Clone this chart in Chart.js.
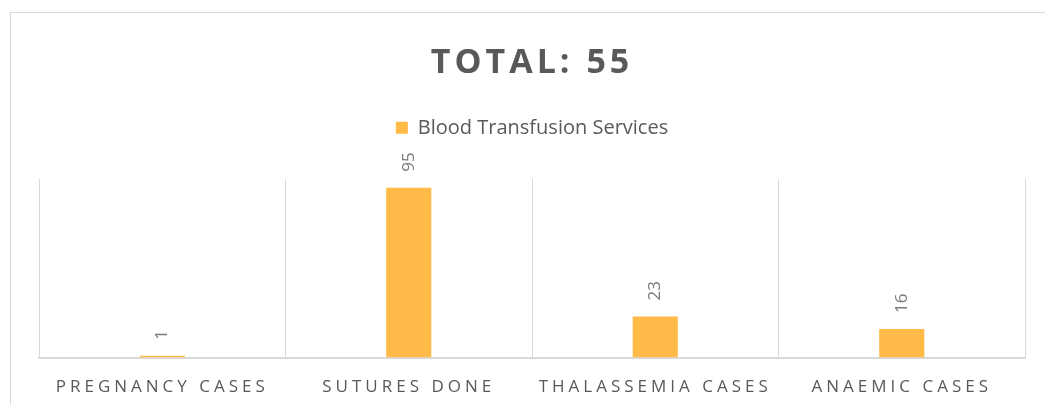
<!DOCTYPE html>
<html>
<head>
<meta charset="utf-8">
<script src="https://cdn.jsdelivr.net/npm/chart.js@4/dist/chart.umd.min.js"></script>
<style>
  html, body { margin: 0; padding: 0; background: #fff; overflow: hidden; }
  #frame { position: absolute; left: 10px; top: 12px; width: 1100px; height: 500px; border: 1px solid #d9d9d9; box-sizing: border-box; }
  #wrap { position: absolute; left: 0; top: 0; width: 1045px; height: 405px; }
</style>
</head>
<body>
<div id="frame"></div>
<div id="wrap"><canvas id="chart" width="1045" height="405"></canvas></div>
<script>
// data
const categories = ["PREGNANCY CASES", "SUTURES DONE", "THALASSEMIA CASES", "ANAEMIC CASES"];
const transfusions = [1, 95, 23, 16];
const seriesName = "Blood Transfusion Services";
const titleText = "TOTAL: 55";

const FONT = "'Open Sans', 'Liberation Sans', sans-serif";
const grey = "#595959";

// letter spacing for the title and the category labels
const spacingPlugin = {
  id: 'spacing',
  afterLayout(chart) {
    const wrap = (obj, fn, space) => {
      if (!obj || obj['_sp_' + fn]) return;
      const orig = obj[fn].bind(obj);
      obj[fn] = function (...args) {
        const ctx = chart.ctx;
        ctx.save();
        ctx.letterSpacing = space;
        orig(...args);
        ctx.restore();
      };
      obj['_sp_' + fn] = true;
    };
    wrap(chart.titleBlock, 'draw', '4px');
    wrap(chart.scales.x, 'drawLabels', '4px');
  }
};

// vertical value labels above each bar
const valueLabels = {
  id: 'valueLabels',
  afterDatasetsDraw(chart) {
    const ctx = chart.ctx;
    const meta = chart.getDatasetMeta(0);
    ctx.save();
    ctx.font = "17px " + FONT;
    ctx.fillStyle = "#7a7a7a";
    ctx.textAlign = 'left';
    ctx.textBaseline = 'middle';
    meta.data.forEach((bar, i) => {
      ctx.save();
      ctx.translate(bar.x, bar.y - 16);
      ctx.rotate(-Math.PI / 2);
      ctx.fillText(String(transfusions[i]), 0, 0);
      ctx.restore();
    });
    ctx.restore();
  }
};

new Chart(document.getElementById('chart'), {
  type: 'bar',
  data: {
    labels: categories,
    datasets: [{
      label: seriesName,
      data: transfusions,
      backgroundColor: "#FFBA47",
      borderWidth: 0,
      barPercentage: 0.183,
      categoryPercentage: 1
    }]
  },
  options: {
    responsive: false,
    animation: false,
    layout: { padding: { left: 39, right: 20, top: 0, bottom: -11 } },
    plugins: {
      title: {
        display: true,
        text: titleText,
        color: grey,
        font: { family: FONT, size: 34, weight: 'bold', lineHeight: 1.2 },
        padding: { top: 43, bottom: 26 }
      },
      subtitle: {
        display: true,
        text: '',
        weight: 500,
        font: { size: 31, lineHeight: 1 },
        padding: 0
      },
      legend: {
        position: 'top',
        labels: {
          color: grey,
          font: { family: FONT, size: 20 },
          boxWidth: 12,
          boxHeight: 12,
          padding: 8
        }
      },
      tooltip: { enabled: false }
    },
    scales: {
      x: {
        grid: { offset: true, color: "#d9d9d9", lineWidth: 1, drawTicks: false },
        border: { color: "#d9d9d9", width: 2 },
        ticks: {
          color: grey,
          font: { family: FONT, size: 17 },
          padding: 19,
          maxRotation: 0,
          autoSkip: false
        }
      },
      y: {
        display: false,
        min: 0,
        max: 100
      }
    }
  },
  plugins: [spacingPlugin, valueLabels]
});
</script>
</body>
</html>
